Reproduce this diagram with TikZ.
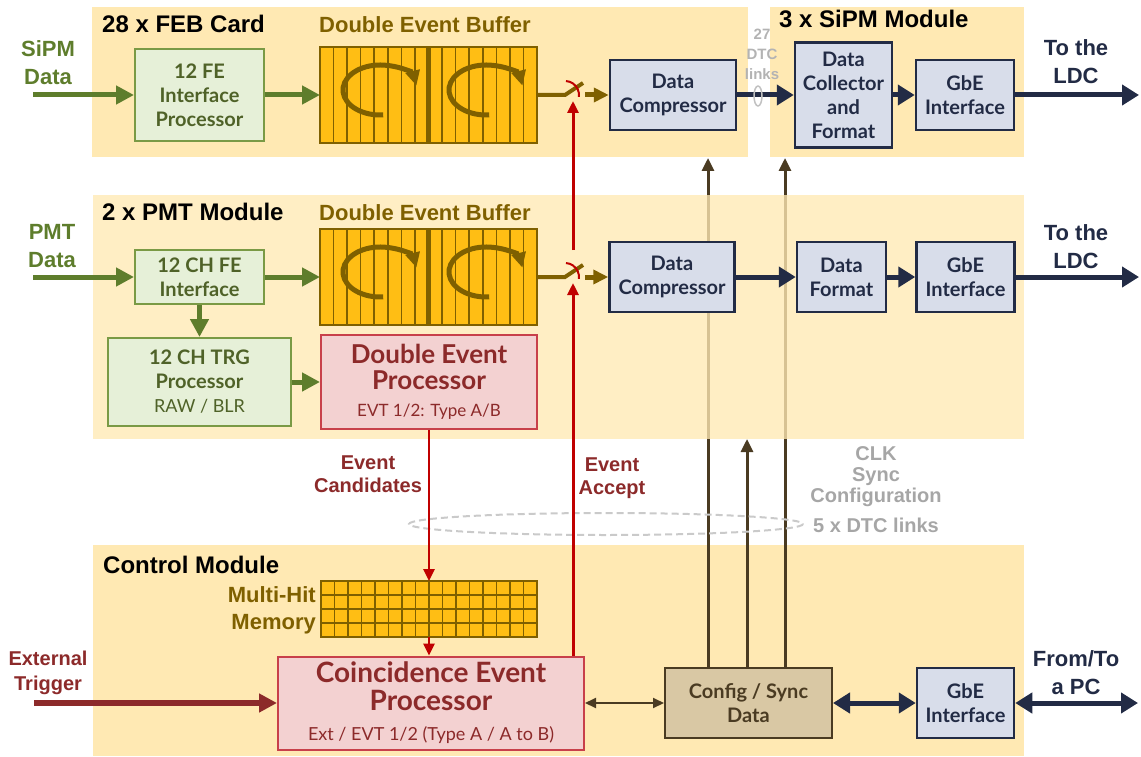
\documentclass[tikz,border=0pt]{standalone}
\usepackage{fontspec}
\setmainfont{Liberation Sans}
\newfontfamily\gillfont{Lato}
\usepackage{tikz}
\usetikzlibrary{arrows.meta}

\definecolor{panelc}{HTML}{FFE9B3}
\definecolor{feline}{HTML}{7A9A45}
\definecolor{fefill}{HTML}{E6F0D8}
\definecolor{fetext}{HTML}{4F6228}
\definecolor{greenc}{HTML}{5E7D2C}
\definecolor{buffill}{HTML}{FFBE14}
\definecolor{bufline}{HTML}{7F6000}
\definecolor{navy}{HTML}{222B45}
\definecolor{dfill}{HTML}{D8DDEA}
\definecolor{evline}{HTML}{C8404A}
\definecolor{evfill}{HTML}{F3D1D1}
\definecolor{evtext}{HTML}{8C2A2A}
\definecolor{redline}{HTML}{C00000}
\definecolor{cfgline}{HTML}{4A3B22}
\definecolor{cfgfill}{HTML}{D9C8A4}
\definecolor{linkgray}{HTML}{A6A6A6}

\tikzset{
    panel/.style={fill=panelc, inner sep=0pt, outer sep=0pt, anchor=north west},
    modtitle/.style={anchor=base west, inner sep=0pt, font=\bfseries\fontsize{24}{28}\selectfont},
    buftitle/.style={anchor=base west, inner sep=0pt, text=bufline, font=\bfseries\fontsize{22}{26}\selectfont},
    iolabel/.style={align=center, inner sep=0pt, font=\bfseries\fontsize{22}{28}\selectfont},
    evlabel/.style={align=center, inner sep=0pt, text=evtext, font=\bfseries\fontsize{20}{23}\selectfont},
    linklabel/.style={align=center, inner sep=0pt, text=linkgray, font=\bfseries\fontsize{20}{21}\selectfont},
    febox/.style={draw=feline, fill=fefill, line width=2pt, text=fetext, align=center, inner sep=0pt,
        font=\gillfont\bfseries\fontsize{20}{24}\selectfont},
    databox/.style={draw=navy, fill=dfill, line width=2.5pt, text=navy, align=center, inner sep=0pt,
        font=\gillfont\bfseries\fontsize{20}{24}\selectfont},
    evbox/.style={draw=evline, fill=evfill, line width=2pt, text=evtext, align=center, inner sep=0pt,
        font=\gillfont\bfseries\fontsize{26}{26}\selectfont},
    cfgbox/.style={draw=cfgline, fill=cfgfill, line width=2pt, text=cfgline, align=center, inner sep=0pt,
        font=\gillfont\bfseries\fontsize{20}{24}\selectfont},
    bufbox/.style={draw=bufline, fill=buffill, line width=2pt, inner sep=0pt, outer sep=0pt},
    garrow/.style={draw=greenc, line width=5pt, -{Triangle[length=18pt,width=18pt]}},
    narrow/.style={draw=navy, line width=5pt, -{Triangle[length=17pt,width=20pt]}},
    nbiarrow/.style={draw=navy, line width=5pt, {Triangle[length=17pt,width=20pt]}-{Triangle[length=17pt,width=20pt]}},
    barrow/.style={draw=bufline, line width=5pt, -{Triangle[length=15pt,width=14pt]}},
    swline/.style={draw=bufline, line width=4pt},
    rarrow/.style={draw=redline, line width=3pt, -{Triangle[length=12pt,width=11pt]}},
    trigarrow/.style={draw=evtext, line width=6pt, -{Triangle[length=18pt,width=18pt]}},
    carrow/.style={draw=cfgline, line width=3pt, -{Triangle[length=13pt,width=12pt]}},
    cbiarrow/.style={draw=cfgline, line width=2pt, {Triangle[length=11pt,width=10pt]}-{Triangle[length=11pt,width=10pt]}},
}

\begin{document}
\begin{tikzpicture}[x=1pt, y=-1pt]
\useasboundingbox (0,0) rectangle (1141,757);

% module panels
\node[panel, minimum width=931pt, minimum height=211pt] (ctlP) at (93,545) {};
\node[panel, minimum width=656pt, minimum height=150pt] (febP) at (92,7) {};
\node[panel, minimum width=254pt, minimum height=150pt] (sipmP) at (770,7) {};

% control module
\node[evbox, minimum width=306pt, minimum height=93pt, font=\gillfont\bfseries\fontsize{28}{28}\selectfont] (coinc) at (431,703)
    {Coincidence Event\\Processor\\[2pt]{\mdseries\fontsize{18}{20}\selectfont Ext / EVT 1/2 (Type A / A to B)}};
\node[cfgbox, minimum width=167pt, minimum height=70pt] (cfg) at (748.5,703) {Config / Sync\\Data};
\node[databox, minimum width=97pt, minimum height=70pt] (gbeC) at (965.5,703) {GbE\\Interface};
\node[bufbox, minimum width=216pt, minimum height=56pt] (mem) at (429,609) {};
\foreach \i in {1,...,15}
    \draw[bufline, line width=1.6pt] (mem.south west) ++(\i*13.5pt,0pt) -- ++(0pt,56pt);
\foreach \j in {1,2,3}
    \draw[bufline, line width=1.6pt] (mem.south west) ++(0pt,\j*14pt) -- ++(216pt,0pt);

% sync lines, seen through the PMT panel
\coordinate (cfgA) at (708,158);
\coordinate (cfgB) at (747,439);
\coordinate (cfgC) at (785,158);
\foreach \c in {cfgA,cfgB,cfgC}
    \draw[carrow] (cfg.north -| \c) -- (\c);
\node[panel, fill opacity=0.78, minimum width=931pt, minimum height=244pt] (pmtP) at (93,195) {};

% titles
\node[modtitle] (tFeb) at (102,33) {28 x FEB Card};
\node[modtitle] (tSipm) at (779,28) {3 x SiPM Module};
\node[modtitle] (tPmt) at (102,220) {2 x PMT Module};
\node[modtitle] (tCtl) at (103,573) {Control Module};
\node[buftitle] (tBufF) at (319,33) {Double Event Buffer};
\node[buftitle] (tBufP) at (319,220) {Double Event Buffer};

% FEB card and SiPM module
\node[febox, minimum width=129pt, minimum height=92pt] (feF) at (199.5,95) {12 FE\\Interface\\Processor};
\node[databox, minimum width=126pt, minimum height=70pt] (cmpF) at (673,95) {Data\\Compressor};
\node[databox, minimum width=97pt, minimum height=105pt] (dcol) at (843.5,95) {Data\\Collector\\and\\Format};
\node[databox, minimum width=98pt, minimum height=70pt] (gbeF) at (965,95) {GbE\\Interface};

% PMT module
\node[febox, minimum width=129pt, minimum height=54pt] (feP) at (199.5,277) {12 CH FE\\Interface};
\node[febox, minimum width=183pt, minimum height=88pt] (trg) at (199.5,382)
    {12 CH TRG\\Processor\\{\mdseries\fontsize{18}{20}\selectfont RAW / BLR}};
\node[evbox, minimum width=216pt, minimum height=94pt] (dep) at (429,382)
    {Double Event\\Processor\\[1pt]{\mdseries\fontsize{17}{20}\selectfont EVT 1/2: Type A/B}};
\node[databox, minimum width=125pt, minimum height=70pt] (cmpP) at (672,277) {Data\\Compressor};
\node[databox, minimum width=89pt, minimum height=70pt] (dfmt) at (841.5,277) {Data\\Format};
\node[databox, minimum width=98pt, minimum height=70pt] (gbeP) at (965.5,277) {GbE\\Interface};

% double event buffers with their switches
\foreach \bn/\by/\sw/\cn in {bufF/95/swF/cmpF, bufP/277/swP/cmpP} {
    \node[bufbox, minimum width=217pt, minimum height=96pt] (\bn) at (428.5,\by) {};
    \foreach \i in {1,...,15}
        \draw[bufline, line width=1.6pt] (\bn.south west) ++(\i*13.5625pt,0pt) -- ++(0pt,96pt);
    \draw[bufline, line width=5pt] (\bn.south) -- (\bn.north);
    \foreach \dx in {-45.3pt,60.7pt}
        \draw[barrow] (\bn.center) ++(\dx,-19.9pt) arc[start angle=275, end angle=10, x radius=37pt, y radius=25pt];
    \coordinate (\sw) at (565,\by);
    \coordinate (\sw-out) at (585,\by);
    \draw[swline] (\bn.east) -- (\sw) -- ++(18pt,12pt);
    \draw[redline, line width=2pt] (\sw) ++(86:14pt) arc[start angle=86, end angle=-8, radius=14pt];
    \draw[barrow] (\sw-out) -- (\cn.west);
}

% data paths
\coordinate (sipmIn) at (33,95);
\coordinate (pmtIn) at (33,277);
\coordinate (ldcF) at (1139,95);
\coordinate (ldcP) at (1139,277);
\draw[garrow] (sipmIn) -- (feF.west);
\draw[garrow] (feF.east) -- (bufF.west);
\draw[narrow] (cmpF.east) -- (dcol.west);
\draw[narrow] (dcol.east) -- (gbeF.west);
\draw[narrow] (gbeF.east) -- (ldcF);
\draw[linkgray!70, line width=1.5pt] (758,96) ellipse[x radius=4, y radius=10];
\draw[garrow] (pmtIn) -- (feP.west);
\draw[garrow] (feP.east) -- (bufP.west);
\draw[garrow] (feP.south) -- (trg.north);
\draw[garrow] (trg.east) -- (dep.west);
\draw[narrow] (cmpP.east) -- (dfmt.west);
\draw[narrow] (dfmt.east) -- (gbeP.west);
\draw[narrow] (gbeP.east) -- (ldcP);

% trigger paths
\draw[linkgray!60, line width=2pt, dash pattern=on 7pt off 4pt] (606,524) ellipse[x radius=197, y radius=11];
\coordinate (accP) at (573,283);
\coordinate (accM) at (573,250);
\coordinate (accF) at (573,101);
\draw[rarrow, line width=2.5pt] (dep.south) -- (mem.north);
\draw[rarrow, line width=2.5pt] (mem.south) -- (coinc.north -| mem.south);
\draw[rarrow] (coinc.north -| accP) -- (accP);
\draw[rarrow] (accM) -- (accF);
\coordinate (trigIn) at (34,703);
\coordinate (pcOut) at (1138,703);
\draw[trigarrow] (trigIn) -- (coinc.west);
\draw[cbiarrow] (coinc.east) -- (cfg.west);
\draw[nbiarrow] (cfg.east) -- (gbeC.west);
\draw[nbiarrow] (gbeC.east) -- (pcOut);

% labels
\node[iolabel, text=greenc] (lSipm) at (48,63) {SiPM\\Data};
\node[iolabel, text=greenc] (lPmt) at (52,246) {PMT\\Data};
\node[iolabel, text=navy] (lLdcF) at (1076,62) {To the\\LDC};
\node[iolabel, text=navy] (lLdcP) at (1076,247) {To the\\LDC};
\node[iolabel, text=navy] (lPc) at (1076,673) {From/To\\a PC};
\node[iolabel, text=evtext, font=\bfseries\fontsize{20}{25}\selectfont] (lTrig) at (48,673) {External\\Trigger};
\node[evlabel] (lCand) at (368,474) {Event\\Candidates};
\node[evlabel] (lAcc) at (612,478) {Event\\Accept};
\node[linklabel] (lClk) at (876,477) {CLK\\Sync\\Configuration};
\node[linklabel] (lDtc) at (876,525) {5 x DTC links};
\node[linklabel, text=linkgray!85, font=\bfseries\fontsize{15}{20}\selectfont] (lDtc27) at (762,54) {27\\DTC\\links};
\node[align=right, anchor=east, inner sep=0pt, text=bufline, font=\bfseries\fontsize{22}{27}\selectfont] (lMem) at (316,610) {Multi-Hit\\Memory};
\end{tikzpicture}
\end{document}
